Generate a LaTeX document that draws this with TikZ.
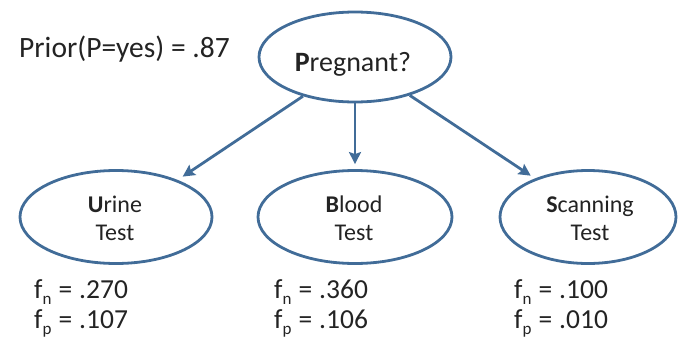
\documentclass[tikz,border=0pt]{standalone}
\usepackage{fontspec}
\setmainfont{Carlito}
\usetikzlibrary{shapes.geometric,arrows.meta}
\definecolor{edgeblue}{RGB}{65,108,152}
\definecolor{ink}{RGB}{35,35,35}
\tikzset{
  bubble/.style={ellipse, draw=edgeblue, line width=2.8pt, inner sep=0pt},
  arr/.style={draw=edgeblue, line width=2.8pt, -{Stealth[length=12pt,width=12pt,inset=2pt]}},
  txt/.style={anchor=base, inner sep=0pt, text=ink},
  lbl/.style={anchor=base west, inner sep=0pt, text=ink, font=\fontsize{27.5}{30}\selectfont},
}
\newcommand{\sbn}[1]{\raisebox{-6.5pt}{\fontsize{17}{17}\selectfont #1}}
\newcommand{\fval}[2]{f\sbn{#1}\hspace{7pt}=\hspace{7pt}#2}
\begin{document}
\begin{tikzpicture}[x=1pt,y=-1pt]
\useasboundingbox (0,0) rectangle (678,343);
\node[txt, anchor=base west, font=\fontsize{29.5}{32}\selectfont] (prior) at (19,57) {Prior(P=yes) = .87};
% ellipses
\node[bubble, minimum width=192pt, minimum height=90pt] (top) at (355,57) {};
\node[bubble, minimum width=192pt, minimum height=93pt] (urine) at (116,217) {};
\node[bubble, minimum width=194pt, minimum height=93pt] (blood) at (355,217) {};
\node[bubble, minimum width=176pt, minimum height=93pt] (scan) at (588,217) {};
% node texts
\node[txt, font=\fontsize{28}{30}\selectfont] (topt) at (353,71) {\textbf{P}regnant?};
\node[txt, font=\fontsize{24}{28}\selectfont] (urine1) at (115,212) {\textbf{U}rine};
\node[txt, font=\fontsize{24}{28}\selectfont] (urine2) at (115,240) {Test};
\node[txt, font=\fontsize{24}{28}\selectfont] (blood1) at (354,212) {\textbf{B}lood};
\node[txt, font=\fontsize{24}{28}\selectfont] (blood2) at (354,240) {Test};
\node[txt, font=\fontsize{24}{28}\selectfont] (scan1) at (590,212) {\textbf{S}canning};
\node[txt, font=\fontsize{24}{28}\selectfont] (scan2) at (590,240) {Test};
% arrows
\draw[arr, shorten >=6pt] (top.217) -- (urine.31);
\draw[arr, shorten >=5pt] (top.south) -- (blood.north);
\draw[arr, shorten >=5pt] (top.325) -- (scan.144);
% labels
\node[lbl] (fn1) at (34,298) {\fval{n}{.270}};
\node[lbl] (fp1) at (34,328) {\fval{p}{.107}};
\node[lbl] (fn2) at (274,298) {\fval{n}{.360}};
\node[lbl] (fp2) at (274,328) {\fval{p}{.106}};
\node[lbl] (fn3) at (514,298) {\fval{n}{.100}};
\node[lbl] (fp3) at (514,328) {\fval{p}{.010}};
\end{tikzpicture}
\end{document}
